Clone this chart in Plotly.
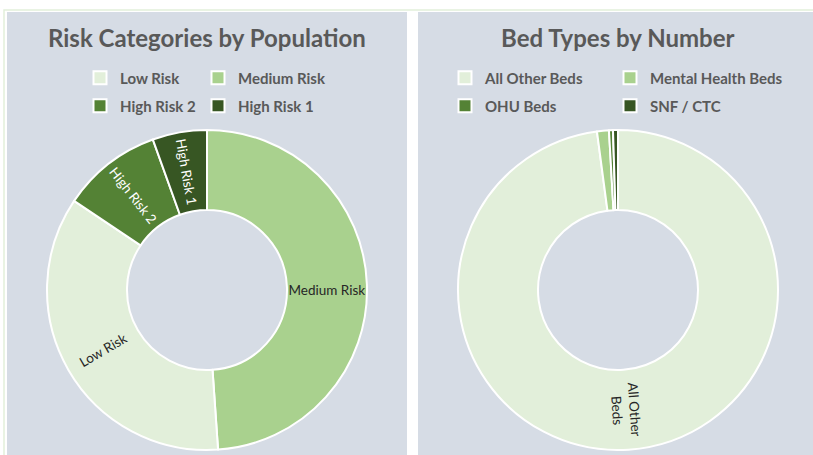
import math
import plotly.graph_objects as go

W, H = 813, 455

# ---- data ----
risk_labels = ["Medium Risk", "Low Risk", "High Risk 2", "High Risk 1"]
risk_values = [48.9, 35.5, 10.1, 5.5]
risk_colors = ["#a9d18e", "#e2efda", "#548235", "#375623"]
risk_text_colors = ["#262626", "#262626", "#ffffff", "#ffffff"]
risk_legend_order = ["Low Risk", "Medium Risk", "High Risk 2", "High Risk 1"]

bed_labels = ["All Other Beds", "Mental Health Beds", "OHU Beds", "SNF / CTC"]
bed_values = [97.9, 1.2, 0.4, 0.5]
bed_colors = ["#e2efda", "#a9d18e", "#548235", "#375623"]
bed_label_text = ["All Other<br>Beds", "", "", ""]

FONT = "Lato, 'Open Sans', sans-serif"
TXT = 13.5


def px(x):
    return x / W


def py(y):
    return 1 - y / H


# pie geometry (pixels)
L_CX, R_CX, CY, RAD, HOLE = 207, 618, 290, 160, 0.5

# labels drawn by plotly itself, or by a radial annotation
risk_pie_text = ["Medium Risk", "", "High Risk 2", "High Risk 1"]
risk_ann_text = ["", "Low Risk", "", ""]

fig = go.Figure()

fig.add_trace(go.Pie(
    labels=risk_labels, values=risk_values, sort=False, direction="clockwise",
    rotation=0, hole=HOLE, text=risk_pie_text, textinfo="text",
    insidetextorientation="radial",
    marker=dict(colors=risk_colors, line=dict(color="white", width=2)),
    insidetextfont=dict(family=FONT, size=TXT, color=risk_text_colors),
    domain=dict(x=[px(L_CX - RAD), px(L_CX + RAD)], y=[py(CY + RAD), py(CY - RAD)]),
    showlegend=False, hoverinfo="label+percent",
))

fig.add_trace(go.Pie(
    labels=bed_labels, values=bed_values, sort=False, direction="clockwise",
    rotation=0, hole=HOLE, textinfo="none",
    marker=dict(colors=bed_colors, line=dict(color="white", width=2)),
    domain=dict(x=[px(R_CX - RAD), px(R_CX + RAD)], y=[py(CY + RAD), py(CY - RAD)]),
    showlegend=False, hoverinfo="label+percent",
))

# legend entries: one small legend per entry, in the original 2x2 grid
color_of_risk = dict(zip(risk_labels, risk_colors))
color_of_bed = dict(zip(bed_labels, bed_colors))
legend_names = risk_legend_order + bed_labels
legend_cols = [color_of_risk[n] for n in risk_legend_order] + [color_of_bed[n] for n in bed_labels]
legend_x = [80, 198, 80, 198, 445, 610, 445, 610]
legend_y = [78, 78, 106, 106, 78, 78, 106, 106]

legfont = dict(family=FONT, size=15, color="#595959", weight="bold")
legend_layout = {}
for i, (n, c) in enumerate(zip(legend_names, legend_cols)):
    key = "legend" if i == 0 else f"legend{i + 1}"
    fig.add_trace(go.Scatter(
        x=[None], y=[None], mode="markers", name=n, legend=key,
        marker=dict(symbol="square", size=13, color=c,
                    line=dict(color="white", width=2)),
        hoverinfo="skip",
    ))
    legend_layout[key] = dict(
        orientation="h", x=px(legend_x[i]), xanchor="left", y=py(legend_y[i]),
        yanchor="middle", bgcolor="rgba(0,0,0,0)", font=legfont,
        itemclick=False, itemdoubleclick=False)

shapes = [
    dict(type="rect", xref="paper", yref="paper", x0=px(4), x1=px(W + 5),
         y0=py(H + 5), y1=py(10), line=dict(color="#e2efda", width=1.5),
         fillcolor="white", layer="below"),
    dict(type="rect", xref="paper", yref="paper", x0=px(7), x1=px(407),
         y0=py(H + 5), y1=py(12), line=dict(width=0),
         fillcolor="#d6dce5", layer="below"),
    dict(type="rect", xref="paper", yref="paper", x0=px(418), x1=px(W + 5),
         y0=py(H + 5), y1=py(12), line=dict(width=0),
         fillcolor="#d6dce5", layer="below"),
]

titlefont = dict(family=FONT, size=24, color="#595959", weight="bold")
annotations = [
    dict(text="Risk Categories by Population", x=px(L_CX), y=py(37),
         xref="paper", yref="paper", showarrow=False, font=titlefont,
         xanchor="center", yanchor="middle"),
    dict(text="Bed Types by Number", x=px(R_CX), y=py(37),
         xref="paper", yref="paper", showarrow=False, font=titlefont,
         xanchor="center", yanchor="middle"),
]


def radial_labels(values, texts, cx, colors):
    """Place radial slice labels at each slice's mid-angle (clockwise from 12)."""
    total = sum(values)
    start = 0.0
    r_mid = RAD * (1 + HOLE) / 2
    out = []
    for v, t, c in zip(values, texts, colors):
        a = 360.0 * (start + v / 2) / total
        start += v
        if not t:
            continue
        rad = math.radians(a)
        ang = a - 90 if a < 180 else a - 270
        out.append(dict(
            text=t, x=px(cx + r_mid * math.sin(rad)), y=py(CY - r_mid * math.cos(rad)),
            xref="paper", yref="paper", showarrow=False, textangle=ang,
            font=dict(family=FONT, size=TXT, color=c),
            xanchor="center", yanchor="middle",
        ))
    return out


annotations += radial_labels(risk_values, risk_ann_text, L_CX, risk_text_colors)
annotations += radial_labels(bed_values, bed_label_text, R_CX,
                             ["#262626"] * len(bed_values))

fig.update_layout(
    width=W, height=H, margin=dict(l=0, r=0, t=0, b=0),
    paper_bgcolor="white", plot_bgcolor="rgba(0,0,0,0)",
    xaxis=dict(visible=False), yaxis=dict(visible=False),
    shapes=shapes, annotations=annotations,
    showlegend=True,
    **legend_layout,
)

fig.write_html("out.html", config={"displayModeBar": False},
               post_script="document.body.style.margin='0px';")
